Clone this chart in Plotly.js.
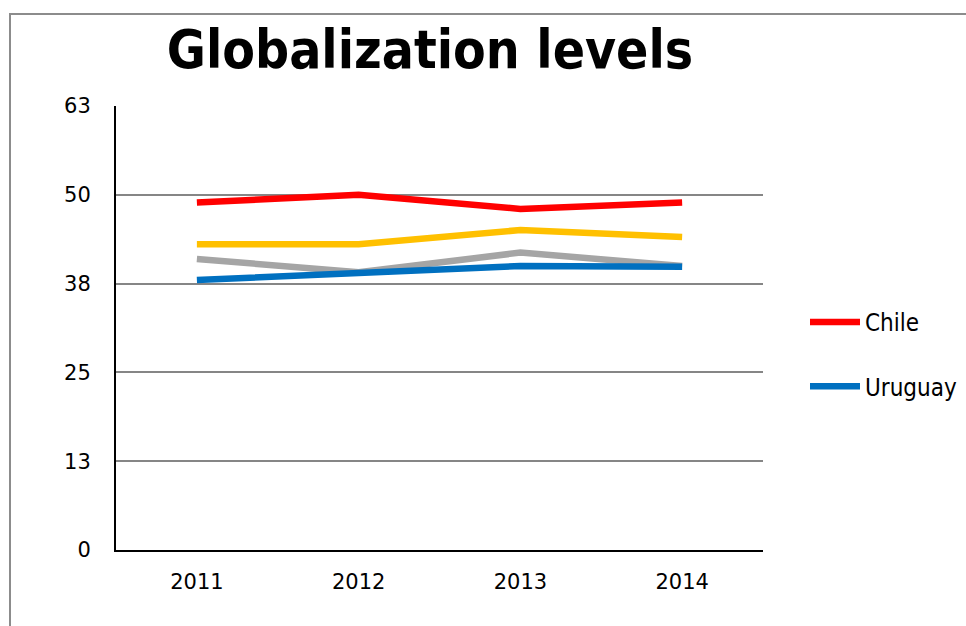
<!DOCTYPE html>
<html>
<head>
<meta charset="utf-8">
<script src="https://cdn.plot.ly/plotly-3.0.1.min.js"></script>
<style>
  html, body { margin: 0; padding: 0; background: #fff; }
  #wrap { position: relative; width: 966px; height: 626px; }
  #frame { position: absolute; left: 9px; top: 13px; right: -5px; bottom: -5px;
           border-left: 2px solid #8c8c8c; border-top: 2px solid #8c8c8c; pointer-events: none; z-index: 5; }
  #chart { position: absolute; left: 0; top: 0; width: 966px; height: 626px; }
</style>
</head>
<body>
<div id="wrap">
  <div id="chart"></div>
  <div id="frame"></div>
</div>
<script>
const years = ["2011", "2012", "2013", "2014"];
const chile = [49.3, 50.4, 48.4, 49.3];
const seriesYellow = [43.4, 43.4, 45.4, 44.4];
const seriesGray = [41.3, 39.4, 42.2, 40.3];
const uruguay = [38.3, 39.2, 40.3, 40.2];
const yTickVals = [0, 12.6, 25.2, 37.8, 50.4, 63];
const yTickText = ["0", "13", "25", "38", "50", "63"];

const tickFont = { family: "DejaVu Sans, sans-serif", size: 21, color: "#000" };

const traces = [
  { x: years, y: chile, name: "Chile", type: "scatter", mode: "lines",
    line: { color: "#FF0000", width: 6.5 }, legendgroup: "a" },
  { x: years, y: seriesYellow, name: "Series 2", type: "scatter", mode: "lines",
    line: { color: "#FFC000", width: 6.5 }, showlegend: false },
  { x: years, y: seriesGray, name: "Series 3", type: "scatter", mode: "lines",
    line: { color: "#A5A5A5", width: 6.5 }, showlegend: false },
  { x: years, y: uruguay, name: "Uruguay", type: "scatter", mode: "lines",
    line: { color: "#0070C0", width: 6.5 }, legendgroup: "b" }
];

const layout = {
  width: 966, height: 626,
  paper_bgcolor: "#fff", plot_bgcolor: "#fff",
  margin: { l: 116, r: 203, t: 106, b: 76, pad: 0 },
  title: {
    text: "<b>Globalization levels</b>",
    font: { family: "DejaVu Sans Condensed, DejaVu Sans, sans-serif", size: 53, color: "#000" },
    x: 430 / 966, xanchor: "center", xref: "container",
    y: 1 - 49 / 626, yanchor: "middle", yref: "container"
  },
  xaxis: {
    type: "category", range: [-0.5, 3.5],
    showline: true, linecolor: "#000", linewidth: 2,
    showgrid: false, zeroline: false,
    ticks: "", tickfont: tickFont, ticklabelstandoff: 12
  },
  yaxis: {
    range: [0, 63], tickmode: "array", tickvals: yTickVals, ticktext: yTickText,
    showline: true, linecolor: "#000", linewidth: 2,
    showgrid: true, gridcolor: "#868686", gridwidth: 2,
    zeroline: false, ticks: "", tickfont: tickFont, ticklabelstandoff: 19
  },
  legend: {
    x: 805 / 966, xref: "container", xanchor: "left",
    y: 1 - 300 / 626, yref: "container", yanchor: "top",
    font: { family: "DejaVu Sans Condensed, DejaVu Sans, sans-serif", size: 24, color: "#000" },
    tracegroupgap: 30, itemwidth: 50, bgcolor: "rgba(0,0,0,0)"
  },
  showlegend: true
};

Plotly.newPlot("chart", traces, layout, { displayModeBar: false, staticPlot: true });
</script>
</body>
</html>
